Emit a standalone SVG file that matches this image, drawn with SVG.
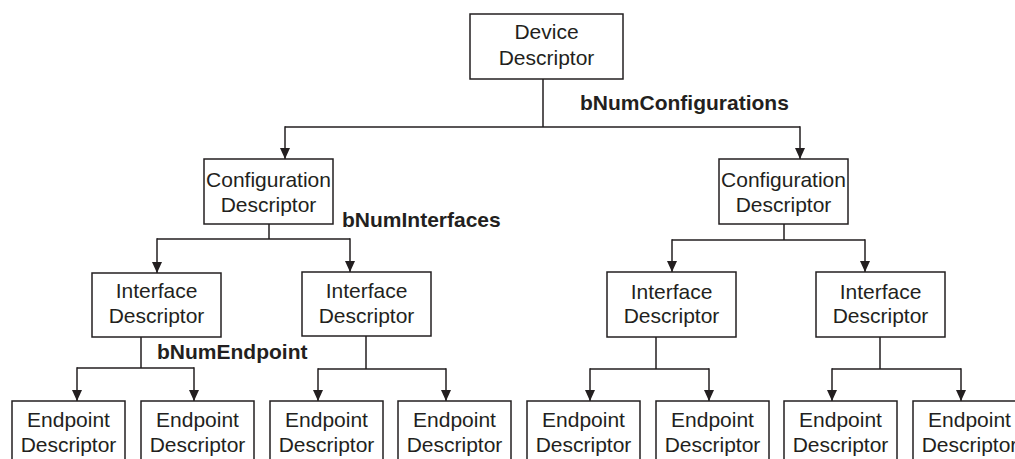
<svg xmlns="http://www.w3.org/2000/svg" width="1015" height="459" viewBox="0 0 1015 459">
<defs>
<marker id="arr" markerUnits="userSpaceOnUse" markerWidth="12" markerHeight="12" viewBox="0 0 12 12" refX="11" refY="6" orient="auto">
<path d="M0,1 L11,6 L0,11 Z" fill="#231f20"/>
</marker>
<style>
.box{fill:#fff;stroke:#231f20;stroke-width:1.5}
.t{font-family:"Liberation Sans",Arial,sans-serif;font-size:21px;fill:#231f20;text-anchor:middle}
.b{font-family:"Liberation Sans",Arial,sans-serif;font-size:21px;font-weight:bold;fill:#231f20}
.c{fill:none;stroke:#231f20;stroke-width:1.5}
.a{fill:none;stroke:#231f20;stroke-width:1.5;marker-end:url(#arr)}
</style>
</defs>
<rect width="1015" height="459" fill="#fff"/>
<g id="connectors">
<path class="c" d="M543,79 V127 M285,127 H800"/>
<path class="a" d="M285,126.25 V159"/>
<path class="a" d="M800,126.25 V159"/>
<path class="c" d="M269,224 V239 M157,239 H350"/>
<path class="a" d="M157,238.25 V273"/>
<path class="a" d="M350,238.25 V272"/>
<path class="c" d="M784,224 V240 M672,240 H865"/>
<path class="a" d="M672,239.25 V272"/>
<path class="a" d="M865,239.25 V272"/>
<path class="c" d="M141,337 V368 M77,368 H194"/>
<path class="a" d="M77,367.25 V401"/>
<path class="a" d="M194,367.25 V401"/>
<path class="c" d="M366,336 V369 M318,369 H446"/>
<path class="a" d="M318,368.25 V401"/>
<path class="a" d="M446,368.25 V401"/>
<path class="c" d="M656,337 V369 M590,369 H709"/>
<path class="a" d="M590,368.25 V401"/>
<path class="a" d="M709,368.25 V401"/>
<path class="c" d="M880,337 V369 M832,369 H961"/>
<path class="a" d="M832,368.25 V401"/>
<path class="a" d="M961,368.25 V401"/>
<text class="b" x="580" y="110">bNumConfigurations</text>
<text class="b" x="342" y="227">bNumInterfaces</text>
<text class="b" x="157" y="359">bNumEndpoint</text>
</g>
<g id="device"><rect class="box" x="470" y="14" width="153" height="65"/><text class="t" x="546.5" y="39">Device</text><text class="t" x="546.5" y="65">Descriptor</text></g>
<g id="configL"><rect class="box" x="204" y="159" width="129" height="65"/><text class="t" x="268.5" y="187">Configuration</text><text class="t" x="268.5" y="212">Descriptor</text></g>
<g id="configR"><rect class="box" x="719" y="159" width="129" height="65"/><text class="t" x="783.5" y="187">Configuration</text><text class="t" x="783.5" y="212">Descriptor</text></g>
<g id="if1"><rect class="box" x="92" y="273" width="129" height="64"/><text class="t" x="156.5" y="298">Interface</text><text class="t" x="156.5" y="323">Descriptor</text></g>
<g id="if2"><rect class="box" x="302" y="272" width="129" height="64"/><text class="t" x="366.5" y="298">Interface</text><text class="t" x="366.5" y="323">Descriptor</text></g>
<g id="if3"><rect class="box" x="607" y="272" width="129" height="65"/><text class="t" x="671.5" y="299">Interface</text><text class="t" x="671.5" y="323">Descriptor</text></g>
<g id="if4"><rect class="box" x="816" y="272" width="129" height="65"/><text class="t" x="880.5" y="299">Interface</text><text class="t" x="880.5" y="323">Descriptor</text></g>
<g id="ep1"><rect class="box" x="12" y="401" width="113" height="70"/><text class="t" x="68.5" y="427">Endpoint</text><text class="t" x="68.5" y="452">Descriptor</text></g>
<g id="ep2"><rect class="box" x="141" y="401" width="113" height="70"/><text class="t" x="197.5" y="427">Endpoint</text><text class="t" x="197.5" y="452">Descriptor</text></g>
<g id="ep3"><rect class="box" x="270" y="401" width="113" height="70"/><text class="t" x="326.5" y="427">Endpoint</text><text class="t" x="326.5" y="452">Descriptor</text></g>
<g id="ep4"><rect class="box" x="398" y="401" width="113" height="70"/><text class="t" x="454.5" y="427">Endpoint</text><text class="t" x="454.5" y="452">Descriptor</text></g>
<g id="ep5"><rect class="box" x="527" y="401" width="113" height="70"/><text class="t" x="583.5" y="427">Endpoint</text><text class="t" x="583.5" y="452">Descriptor</text></g>
<g id="ep6"><rect class="box" x="656" y="401" width="113" height="70"/><text class="t" x="712.5" y="427">Endpoint</text><text class="t" x="712.5" y="452">Descriptor</text></g>
<g id="ep7"><rect class="box" x="784" y="401" width="113" height="70"/><text class="t" x="840.5" y="427">Endpoint</text><text class="t" x="840.5" y="452">Descriptor</text></g>
<g id="ep8"><rect class="box" x="913" y="401" width="113" height="70"/><text class="t" x="969.5" y="427">Endpoint</text><text class="t" x="969.5" y="452">Descriptor</text></g>
</svg>
